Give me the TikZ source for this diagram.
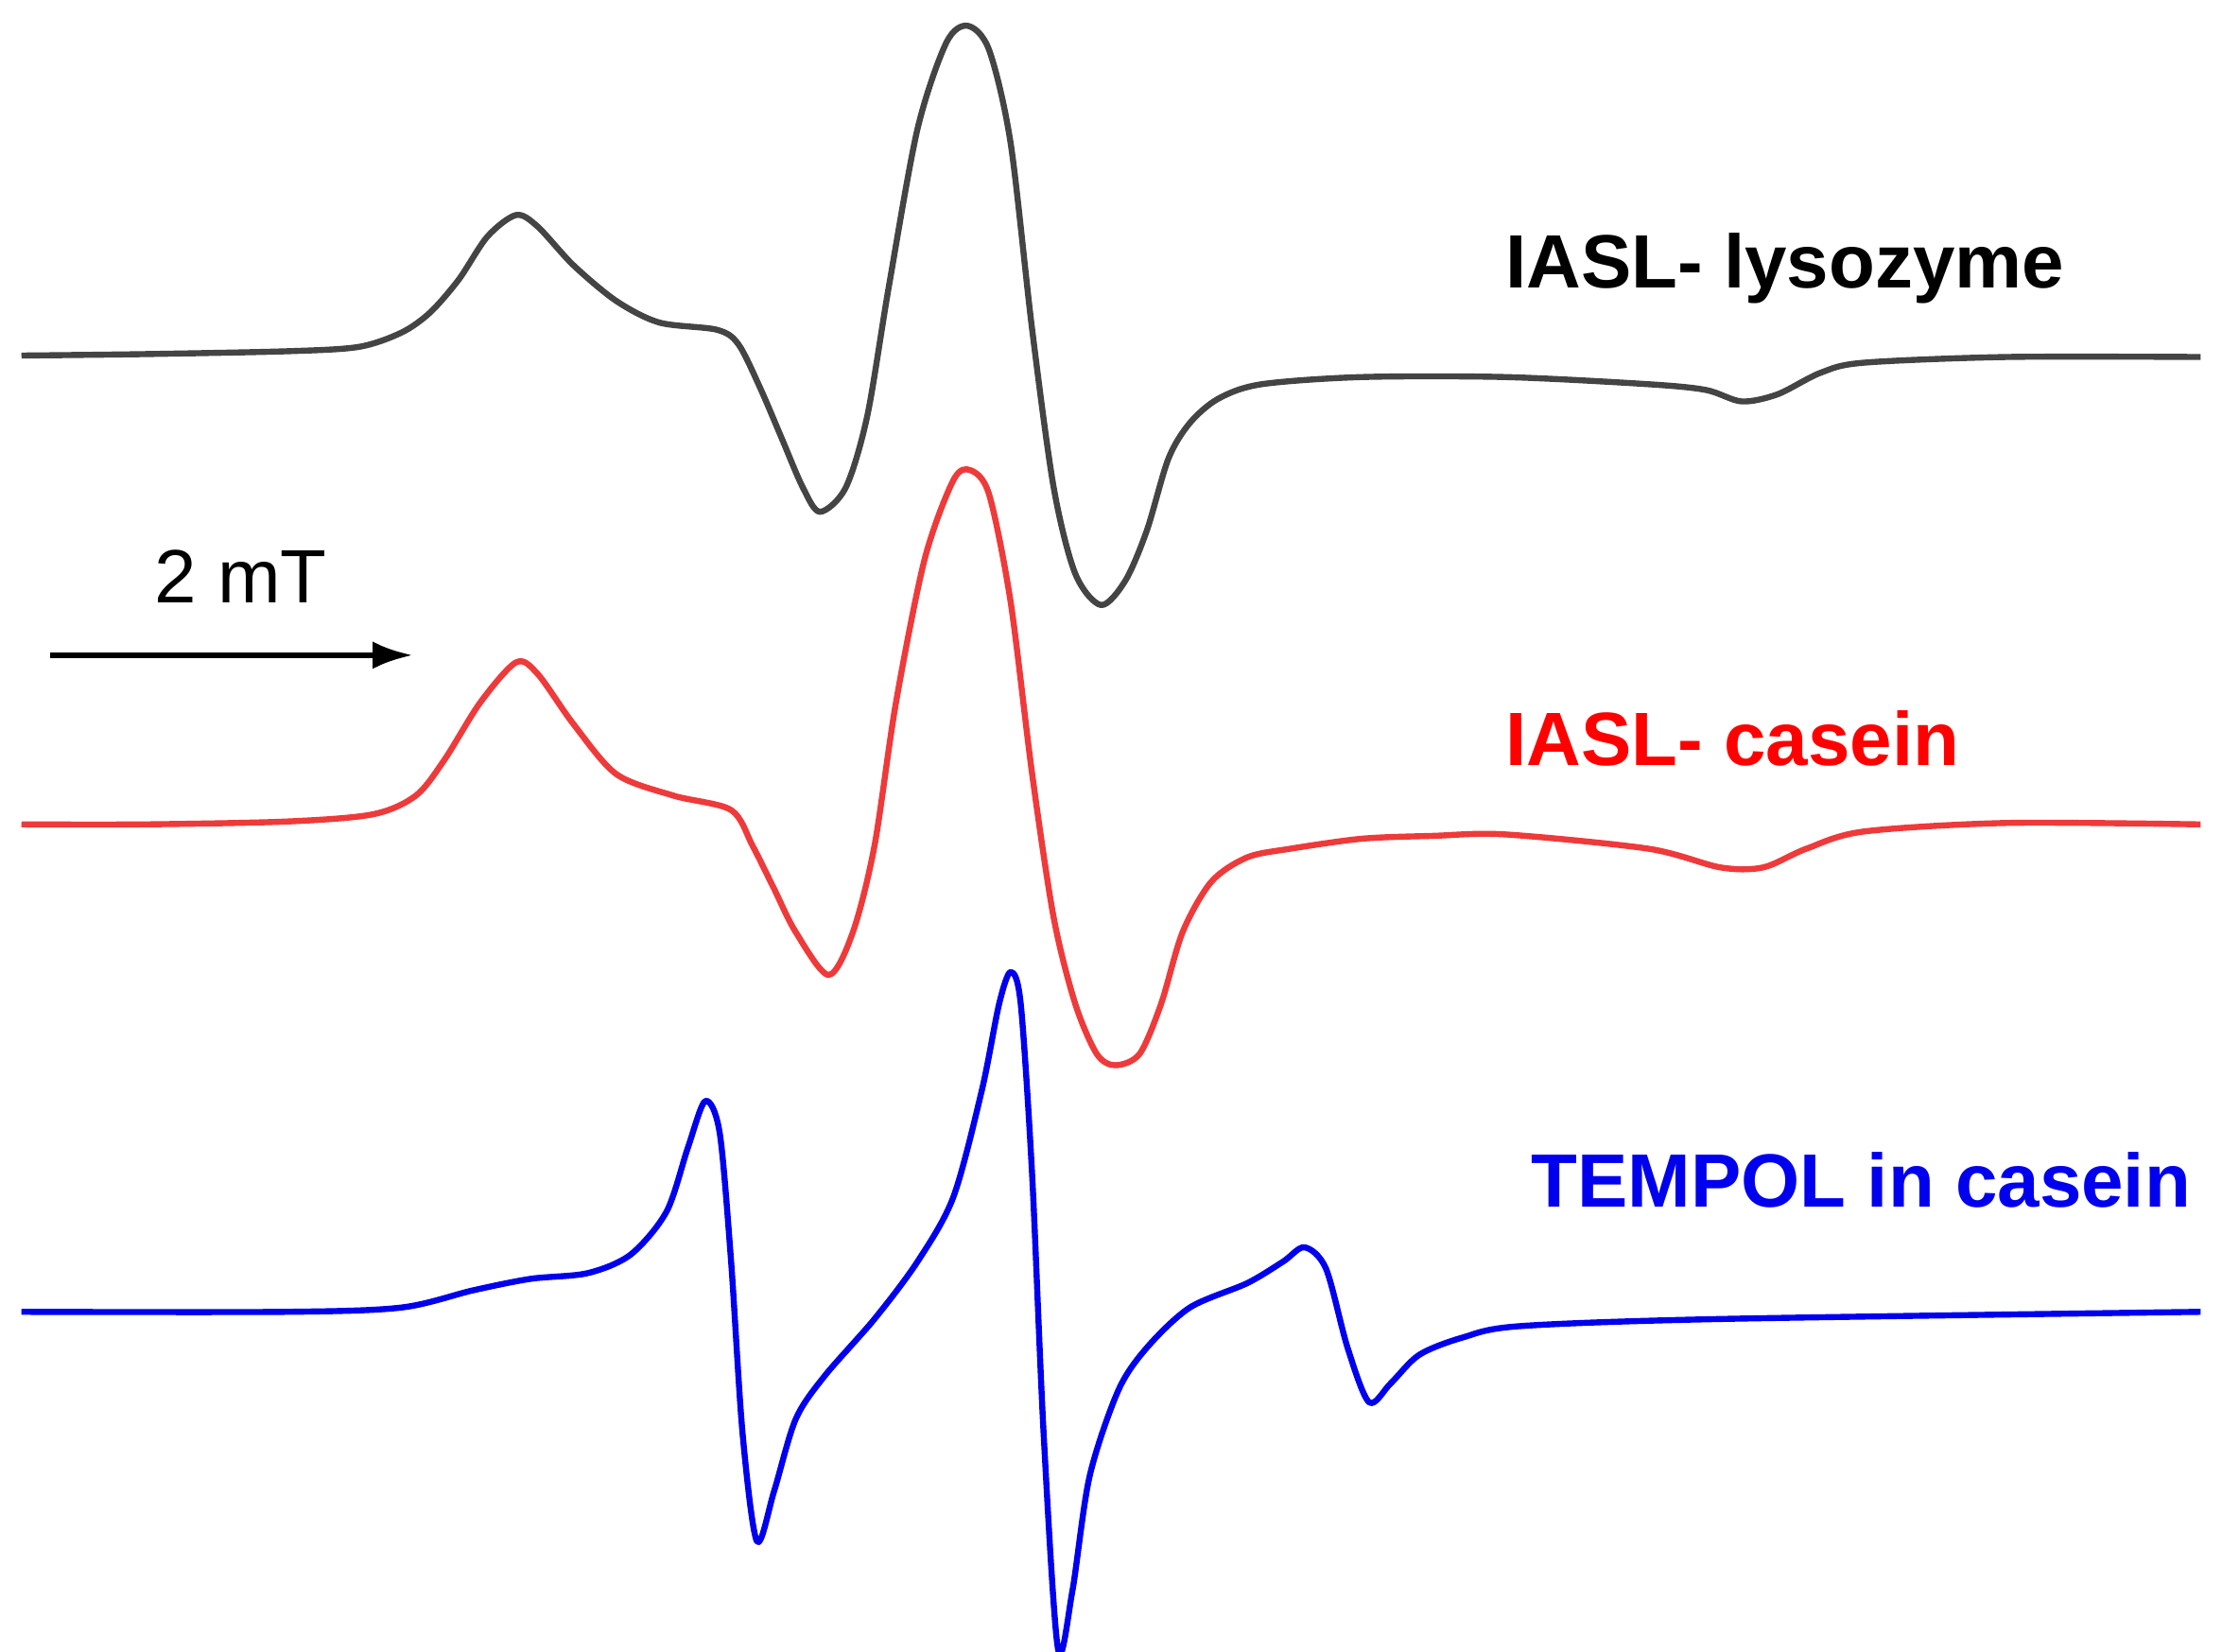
\documentclass[tikz,border=0pt]{standalone}
\usepackage{fontspec}
\setmainfont{Liberation Sans}
\usetikzlibrary{arrows.meta}
\begin{document}
\begin{tikzpicture}[x=0.02cm,y=-0.02cm,
 curve/.style={line width=2.4pt,smooth,tension=0.5,line join=round},
 lbl/.style={font=\fontsize{30}{36}\selectfont\bfseries,anchor=west,inner sep=0}]
\definecolor{cgray}{HTML}{444444}
\definecolor{cred}{HTML}{EE3A3A}
\definecolor{cblue}{HTML}{0000EE}
\useasboundingbox (0,0) rectangle (1550,1152);
\draw[curve,cgray] plot coordinates {(15,248)(100,247)(200,245)(250,242)(280,232)(300,218)(320,195)(340,165)(360,150)(375,158)(400,185)(430,210)(460,225)(500,230)(515,240)(530,270)(545,305)(560,340)(572,357)(590,340)(605,290)(620,200)(640,90)(660,30)(675,18)(690,35)(705,100)(720,230)(735,340)(750,400)(768,422)(785,405)(800,370)(815,320)(830,295)(850,278)(880,268)(950,263)(1050,263)(1150,268)(1190,272)(1215,280)(1240,275)(1270,260)(1300,253)(1400,249)(1535,249)};
\draw[curve,cred] plot coordinates {(15,575)(100,575)(200,573)(260,568)(290,555)(310,530)(335,490)(360,462)(375,470)(400,505)(430,540)(470,555)(510,565)(525,590)(540,620)(555,650)(578,680)(595,650)(610,590)(625,490)(645,390)(665,335)(677,328)(690,345)(705,420)(720,540)(735,640)(750,700)(765,735)(778,743)(795,735)(810,700)(825,650)(845,615)(870,598)(900,592)(950,585)(1000,583)(1050,582)(1150,592)(1200,605)(1230,605)(1260,592)(1300,580)(1400,574)(1535,575)};
\draw[curve,cblue] plot coordinates {(15,915)(200,915)(280,912)(330,900)(370,892)(410,888)(440,875)(465,845)(480,800)(492,768)(502,790)(510,880)(518,1000)(528,1075)(540,1040)(555,990)(575,960)(610,920)(640,880)(665,835)(685,760)(697,700)(705,678)(712,700)(720,820)(728,1000)(738,1150)(748,1110)(760,1030)(780,970)(800,940)(830,912)(870,895)(895,880)(910,870)(925,885)(940,940)(955,978)(970,965)(990,945)(1020,933)(1060,925)(1200,920)(1535,915)};
\node[lbl,text=black] (l1) at (1050,187) {IASL- lysozyme};
\node[lbl,text=red] (l2) at (1050,515) {IASL- casein};
\node[lbl,text=cblue] (l3) at (1068,823) {TEMPOL in casein};
\node[font=\fontsize{30}{36}\selectfont] (mt) at (168,402) {2 mT};
\coordinate (a0) at (35,457);
\coordinate (a1) at (288,457);
\draw[line width=2.4pt,-{Latex[length=16pt,width=11pt]}] (a0) -- (a1);
\end{tikzpicture}
\end{document}
